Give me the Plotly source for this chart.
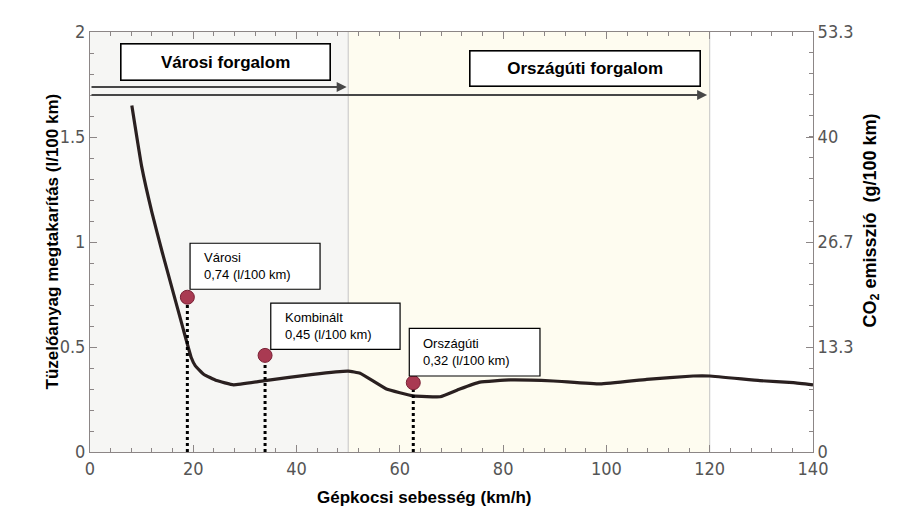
import plotly.graph_objects as go

# ---- data ----
speed = [8.1, 10.0, 12.0, 14.0, 16.0, 18.0, 19.6, 20.4, 22.0, 24.5, 27.8, 33.9, 43.2, 50.0, 52.3,
         57.4, 62.6, 67.8, 71.6, 75.5, 81.3, 89.7, 98.8, 107.8, 116.8, 120.0, 129.7, 136.2, 140.0]
saving = [1.65, 1.36, 1.14, 0.95, 0.77, 0.59, 0.45, 0.41, 0.37, 0.34, 0.32, 0.34, 0.37, 0.385, 0.375,
          0.30, 0.267, 0.263, 0.30, 0.333, 0.343, 0.338, 0.324, 0.346, 0.362, 0.362, 0.34, 0.33, 0.32]

point_names = ["Városi", "Kombinált", "Országúti"]
point_speed = [18.85, 33.9, 62.6]
point_value = [0.737, 0.46, 0.33]
point_labels = ["0,74 (l/100 km)", "0,45 (l/100 km)", "0,32 (l/100 km)"]

zone_names = ["Városi forgalom", "Országúti forgalom"]
zone_limits = [50, 120]

y_ticks = [0, 0.5, 1, 1.5, 2]
y_ticktext = ["0", "0.5", "1", "1.5", "2"]
co2_ticks = [0, 13.333, 26.667, 40, 53.333]
co2_ticktext = ["0", "13.3", "26.7", "40", "53.3"]

# ---- styling ----
AX = "#8c8686"
TICKFONT = dict(family="Liberation Sans Narrow, DejaVu Sans Condensed, Arial Narrow, sans-serif",
                size=18, color="#555555")
FAM = "Liberation Sans, Arial, sans-serif"

fig = go.Figure()

# curve
fig.add_trace(go.Scatter(x=speed, y=saving, mode="lines",
                         line=dict(color="#2a2020", width=3.2, shape="spline", smoothing=0.3),
                         hoverinfo="skip", showlegend=False))

# dotted drops
for xs, ys in zip(point_speed, point_value):
    fig.add_trace(go.Scatter(x=[xs, xs], y=[0, ys], mode="lines",
                             line=dict(color="black", width=3, dash="dot"), showlegend=False, hoverinfo="skip"))

# dots
fig.add_trace(go.Scatter(x=point_speed, y=point_value, mode="markers",
                         marker=dict(size=14, color="#a93a52", line=dict(color="#7a2236", width=1)),
                         showlegend=False, hoverinfo="skip"))

# invisible trace on secondary axis to activate it
fig.add_trace(go.Scatter(x=[0], y=[0], yaxis="y2", mode="markers", marker=dict(opacity=0),
                         showlegend=False, hoverinfo="skip"))

shapes = []
# background zones
shapes.append(dict(type="rect", xref="x", yref="paper", x0=0, x1=zone_limits[0], y0=0, y1=1,
                   fillcolor="#f6f6f4", line=dict(width=0), layer="below"))
shapes.append(dict(type="rect", xref="x", yref="paper", x0=zone_limits[0], x1=zone_limits[1], y0=0, y1=1,
                   fillcolor="#fefcf0", line=dict(width=0), layer="below"))
for xl in zone_limits:
    shapes.append(dict(type="line", xref="x", yref="paper", x0=xl, x1=xl, y0=0, y1=1,
                       line=dict(color="#c4c4c4", width=1), layer="below"))

# label boxes (pixel offsets from the dots)
box_offsets = [(2.7, 132.7, 8, 54), (5.7, 135, 6, 52.3), (-4, 126.7, 6.7, 54.4)]
annotations = []
for name, lab, xs, ys, (x0, x1, y0, y1) in zip(point_names, point_labels, point_speed, point_value, box_offsets):
    shapes.append(dict(type="rect", xref="x", yref="y", xsizemode="pixel", ysizemode="pixel",
                       xanchor=xs, yanchor=ys, x0=x0, x1=x1, y0=y0, y1=y1,
                       fillcolor="white", line=dict(color="black", width=1.2)))
    annotations.append(dict(x=xs, y=ys, xref="x", yref="y", xanchor="left", yanchor="middle",
                            xshift=x0 + 12, yshift=(y0 + y1) / 2, showarrow=False, align="left",
                            text=f"{name}<br>{lab}",
                            font=dict(family=FAM, size=13, color="black")))

# zone arrows
arrow_y = [1.738, 1.70]
arrow_end = [zone_limits[0] - 0.3, zone_limits[1] - 0.5]
for ya, xe in zip(arrow_y, arrow_end):
    annotations.append(dict(x=xe, y=ya, ax=0, ay=ya, xref="x", yref="y", axref="x", ayref="y",
                            showarrow=True, arrowhead=2, arrowsize=1, arrowwidth=2, arrowcolor="#474747", text=""))

# zone title boxes
zone_box = [(26.28, 1.859, 208, 35), (95.8, 1.825, 229, 34)]
for name, (bx, by, bw, bh) in zip(zone_names, zone_box):
    annotations.append(dict(x=bx, y=by, xref="x", yref="y", xanchor="center", yanchor="middle",
                            showarrow=False, text=f"<b>{name}</b>", width=bw, height=bh,
                            bgcolor="white", bordercolor="black", borderwidth=1.6, borderpad=0,
                            font=dict(family=FAM, size=17, color="black")))

# axis titles
annotations.append(dict(x=0, y=0.5, xref="paper", yref="paper", xshift=-50, textangle=-90, showarrow=False,
                        text="<b>Tüzelőanyag megtakarítás (l/100 km)</b>", font=dict(family=FAM, size=17, color="black")))
annotations.append(dict(x=1, y=0.55, xref="paper", yref="paper", xshift=72, textangle=-90, showarrow=False,
                        text="<b>CO<sub>2</sub> emisszió  (g/100 km)</b>", font=dict(family=FAM, size=18, color="black")))
annotations.append(dict(x=0.462, y=0, xref="paper", yref="paper", yshift=-45, yanchor="middle", showarrow=False,
                        text="<b>Gépkocsi sebesség (km/h)</b>", font=dict(family=FAM, size=17, color="black")))

fig.update_layout(
    width=900, height=530,
    margin=dict(l=90, r=87, t=32, b=78),
    paper_bgcolor="white", plot_bgcolor="white",
    shapes=shapes, annotations=annotations,
    xaxis=dict(range=[0, 140], dtick=20, showgrid=False, zeroline=False,
               showline=True, linecolor=AX, linewidth=1, mirror="ticks",
               ticks="inside", ticklen=7, tickcolor=AX,
               minor=dict(dtick=4, ticks="inside", ticklen=4, tickcolor=AX),
               tickfont=TICKFONT),
    yaxis=dict(range=[0, 2], tickvals=y_ticks, ticktext=y_ticktext, showgrid=False, zeroline=False,
               showline=True, linecolor=AX, linewidth=1,
               ticks="inside", ticklen=7, tickcolor=AX,
               minor=dict(dtick=0.1, ticks="inside", ticklen=4, tickcolor=AX),
               tickfont=TICKFONT),
    yaxis2=dict(range=[0, 53.333], overlaying="y", side="right", tickvals=co2_ticks, ticktext=co2_ticktext,
                showgrid=False, zeroline=False, showline=True, linecolor=AX, linewidth=1,
                ticks="inside", ticklen=7, tickcolor=AX,
                minor=dict(dtick=2.6667, ticks="inside", ticklen=4, tickcolor=AX),
                tickfont=TICKFONT),
)

fig.write_html("out.html")
